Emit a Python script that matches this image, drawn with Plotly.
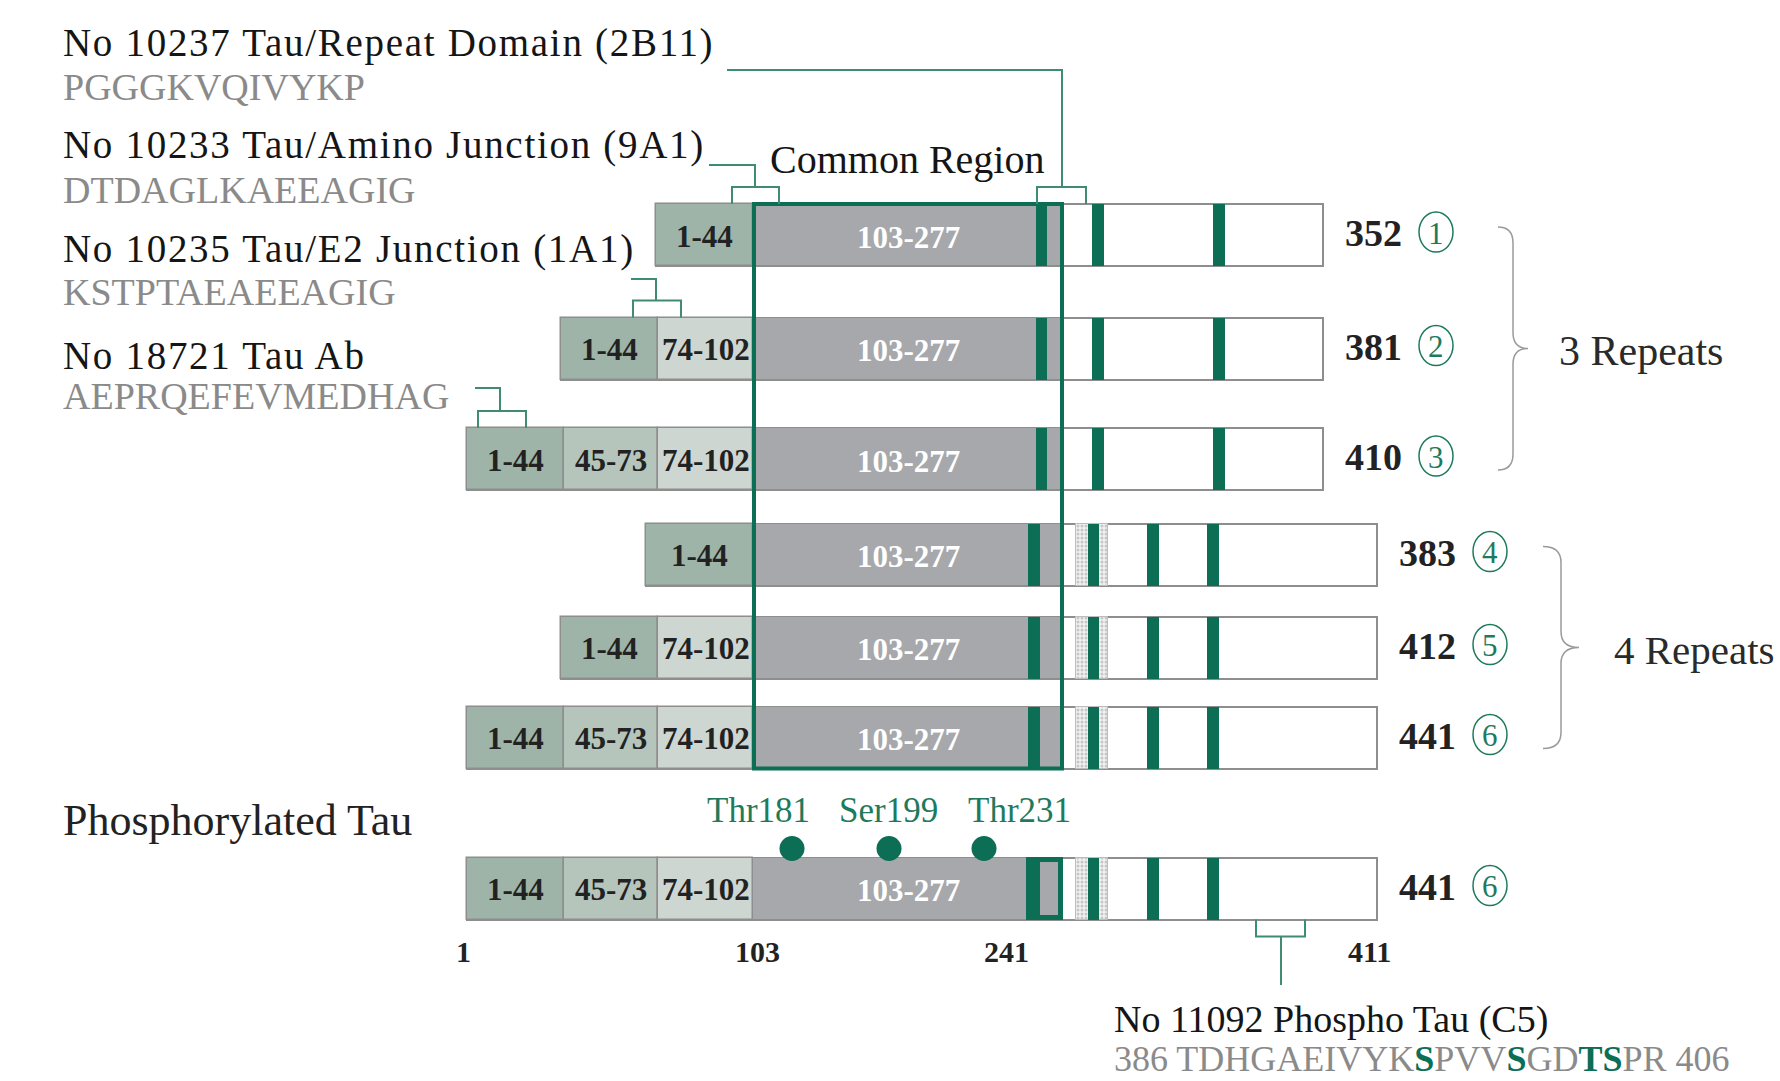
import plotly.graph_objects as go

# ---------------- data ----------------
isoform_lengths = [352, 381, 410, 383, 412, 441]
isoform_numbers = [1, 2, 3, 4, 5, 6]
isoform_nterm = [["1-44"], ["1-44", "74-102"], ["1-44", "45-73", "74-102"],
                 ["1-44"], ["1-44", "74-102"], ["1-44", "45-73", "74-102"]]
isoform_repeats = [3, 3, 3, 4, 4, 4]
core_label = "103-277"
phospho_length = 441
phospho_number = 6
phospho_nterm = ["1-44", "45-73", "74-102"]
phospho_sites = ["Thr181", "Ser199", "Thr231"]
residue_ticks = [1, 103, 241, 411]
antibody_titles = ["No 10237 Tau/Repeat Domain (2B11)",
                   "No 10233 Tau/Amino Junction (9A1)",
                   "No 10235 Tau/E2 Junction (1A1)",
                   "No 18721 Tau Ab"]
antibody_peptides = ["PGGGKVQIVYKP", "DTDAGLKAEEAGIG", "KSTPTAEAEEAGIG", "AEPRQEFEVMEDHAG"]
c5_title = "No 11092 Phospho Tau (C5)"
c5_peptide_parts = ["386 TDHGAEIVYK", "S", "PVV", "S", "GD", "TS", "PR 406"]
c5_peptide_phospho = [False, True, False, True, False, True, False]
repeat_group_labels = ["3 Repeats", "4 Repeats"]
common_label = "Common Region"
phospho_title = "Phosphorylated Tau"

# ---------------- layout / style ----------------
W, H = 1780, 1081
FONT = "Liberation Serif"
GREEN = "#0b6e55"
GREEN_LINE = "#3f8c72"
GREEN_TEXT = "#1f7a5d"
GRAY = "#a7a8ab"
OUTLINE = "#8e8e8e"
DARK = "#151515"
PEP_GRAY = "#8a8a8a"
SEG_COLORS = {"1-44": "#9eb4a8", "45-73": "#b6c5bc", "74-102": "#cdd6d1"}

ROW_Y = [235, 348.5, 459, 554.5, 647.5, 737.5]
PHOS_Y = 888.5
BAR_H = 62
CORE_X0, CORE_X1 = 753, 1062
SEG_W = {"1-44": 97, "45-73": 94, "74-102": 95}
SEG_W_ROW = {3: {"1-44": 107}}          # drawn wider on the 383 row
BAR_END = {3: 1323, 4: 1377}
STRIPES = {3: [(1036, 1047), (1092, 1104), (1213, 1225)],
           4: [(1028, 1040), (1088, 1099), (1147, 1159), (1207, 1219)]}
DOTTED = {3: [], 4: [(1076, 1108)]}

TITLE_X = 61
TITLE_Y = [43, 145, 249, 355]
PEP_Y = [87, 190, 292, 396]
# epitope brackets: (row index, bracket x0, x1, stem x, leader start x, leader y)
EPITOPES = [(0, 1037, 1086, 1062, 727, 70),
            (0, 732, 779, 755, 709, 165),
            (1, 633, 681, 656, 631, 279),
            (2, 478, 526, 500, 475, 388)]
BRACKET_RISE = 17
SITE_X = [792, 889, 984]
SITE_LABEL_X = [758, 888, 1019]
TICK_X = [463, 757, 1006, 1369]
TICK_Y = 951
C5_BRACKET = (1256, 1305, 1281, 985)
C5_TEXT_X = 1112
BRACE = [(0, 2, 1498, 30, 1557, 42), (3, 5, 1543, 36, 1612, 41)]

fig = go.Figure()
shapes = []
annotations = []


def bars(xs0, xs1, ys, color, line_color=OUTLINE, line_w=1.5, pattern=None):
    fig.add_trace(go.Bar(
        orientation="h", y=ys, base=xs0, x=[b - a for a, b in zip(xs0, xs1)],
        width=BAR_H,
        marker=dict(color=color, line=dict(color=line_color, width=line_w),
                    pattern=pattern if pattern else {}),
        showlegend=False, hoverinfo="skip"))


def txt(x, y, s, size, color=DARK, xanchor="left", bold=False, spacing=None,
        yanchor="middle"):
    if spacing:
        s = f'<span style="letter-spacing:{spacing}px">{s}</span>'
    if bold:
        s = f"<b>{s}</b>"
    annotations.append(dict(x=x, y=y, xref="x", yref="y", text=s, showarrow=False,
                            xanchor=xanchor, yanchor=yanchor,
                            font=dict(family=FONT, size=size, color=color)))


def line_path(pts, color=GREEN_LINE, width=2):
    path = "M " + " L ".join(f"{x},{y}" for x, y in pts)
    shapes.append(dict(type="path", path=path, xref="x", yref="y",
                       line=dict(color=color, width=width)))


# rows to draw: six isoforms + phosphorylated 2N4R
rows = []
for i in range(6):
    rows.append(dict(y=ROW_Y[i], nterm=isoform_nterm[i], rep=isoform_repeats[i],
                     length=isoform_lengths[i], num=isoform_numbers[i],
                     w={**SEG_W, **SEG_W_ROW.get(i, {})}))
rows.append(dict(y=PHOS_Y, nterm=phospho_nterm, rep=4, length=phospho_length,
                 num=phospho_number, w=dict(SEG_W)))

for r in rows:
    r["start"] = CORE_X0 - sum(r["w"][s] for s in r["nterm"])
    r["end"] = BAR_END[r["rep"]]

# white full-length backgrounds
bars([r["start"] for r in rows], [r["end"] for r in rows], [r["y"] for r in rows], "white",
     line_w=2)
# N-terminal exon segments
for seg in ["1-44", "45-73", "74-102"]:
    x0s, x1s, ys = [], [], []
    for r in rows:
        x = r["start"]
        for s in r["nterm"]:
            if s == seg:
                x0s.append(x); x1s.append(x + r["w"][s]); ys.append(r["y"])
            x += r["w"][s]
    bars(x0s, x1s, ys, SEG_COLORS[seg])
# core gray region
bars([CORE_X0] * len(rows), [CORE_X1] * len(rows), [r["y"] for r in rows], GRAY,
     line_w=1)
# dotted inserts
x0s, x1s, ys = [], [], []
for r in rows:
    for a, b in DOTTED[r["rep"]]:
        x0s.append(a); x1s.append(b); ys.append(r["y"])
bars(x0s, x1s, ys, "#eeeeee", line_color="#bdbdbd", line_w=1,
     pattern=dict(shape=".", fgcolor="#9c9c9c", bgcolor="#f1f1f1", size=4, solidity=0.45))
# repeat stripes
x0s, x1s, ys = [], [], []
for r in rows:
    for a, b in STRIPES[r["rep"]]:
        x0s.append(a); x1s.append(b); ys.append(r["y"])
bars(x0s, x1s, ys, GREEN, line_color=GREEN, line_w=0)

# phosphorylation sites
fig.add_trace(go.Scatter(x=SITE_X, y=[PHOS_Y - 40] * len(SITE_X), mode="markers",
                         marker=dict(size=25, color=GREEN), showlegend=False,
                         hoverinfo="skip", cliponaxis=False))

# common region box
shapes.append(dict(type="rect", xref="x", yref="y", x0=CORE_X0 + 1, x1=CORE_X1,
                   y0=ROW_Y[0] - BAR_H / 2, y1=ROW_Y[5] + BAR_H / 2,
                   line=dict(color=GREEN, width=4)))
# phospho box around first repeat
shapes.append(dict(type="rect", xref="x", yref="y", x0=1028.5, x1=1060.5,
                   y0=PHOS_Y - BAR_H / 2 + 2, y1=PHOS_Y + BAR_H / 2 - 2,
                   line=dict(color=GREEN, width=5)))

# segment labels
for r in rows:
    x = r["start"]
    for s in r["nterm"]:
        txt(x + r["w"][s] / 2, r["y"] + 1, s, 31, color="#222222", xanchor="center", bold=True)
        x += r["w"][s]
    txt(908, r["y"] + 2, core_label, 31, color="white", xanchor="center", bold=True)
    # length + circled isoform number
    txt(r["end"] + 20, r["y"] - 2, str(r["length"]), 38, color="#222222", bold=True)
    cx, cy = r["end"] + 113, r["y"] - 3
    shapes.append(dict(type="circle", xref="x", yref="y", x0=cx - 17, x1=cx + 17,
                       y0=cy - 20, y1=cy + 20, line=dict(color=GREEN_TEXT, width=1.5)))
    txt(cx, cy + 1, str(r["num"]), 31, color=GREEN_TEXT, xanchor="center")

# antibody labels and epitope connectors
for t, p, ty, py in zip(antibody_titles, antibody_peptides, TITLE_Y, PEP_Y):
    txt(TITLE_X, ty, t, 39, color=DARK, spacing=1.7)
    txt(TITLE_X, py, p, 38, color=PEP_GRAY)
for ri, bx0, bx1, sx, lx, ly in EPITOPES:
    top = ROW_Y[ri] - BAR_H / 2
    by = top - BRACKET_RISE
    line_path([(lx, ly), (sx, ly), (sx, by)])
    line_path([(bx0, top), (bx0, by), (bx1, by), (bx1, top)])

txt(907, 159, common_label, 40, color=DARK, xanchor="center")

# phosphorylated tau
txt(TITLE_X, 820, phospho_title, 44, color="#222222")
for lab, lx in zip(phospho_sites, SITE_LABEL_X):
    txt(lx, PHOS_Y - 78, lab, 35, color=GREEN_TEXT, xanchor="center")
for t, tx in zip(residue_ticks, TICK_X):
    txt(tx, TICK_Y, str(t), 30, color="#222222", xanchor="center", bold=True)

# C5 epitope
bot = PHOS_Y + BAR_H / 2
cb0, cb1, cs, cend = C5_BRACKET
line_path([(cb0, bot), (cb0, bot + BRACKET_RISE), (cb1, bot + BRACKET_RISE), (cb1, bot)])
line_path([(cs, bot + BRACKET_RISE), (cs, cend)])
txt(C5_TEXT_X, 1019, c5_title, 38, color=DARK)
pep = ""
for part, ph in zip(c5_peptide_parts, c5_peptide_phospho):
    pep += f'<b><span style="color:{GREEN}">{part}</span></b>' if ph else part
txt(C5_TEXT_X, 1081, pep, 36, color=PEP_GRAY, yanchor="bottom")

# braces for repeat groups
for (r0, r1, bx, bw, tx, fs), lab in zip(BRACE, repeat_group_labels):
    yt, yb = ROW_Y[r0] - 8, ROW_Y[r1] + 11
    ym = (yt + yb) / 2
    xm, xt, rr = bx + bw / 2, bx + bw, 16
    path = (f"M {bx},{yt} Q {xm},{yt} {xm},{yt + rr} L {xm},{ym - rr} "
            f"Q {xm},{ym} {xt},{ym} Q {xm},{ym} {xm},{ym + rr} L {xm},{yb - rr} "
            f"Q {xm},{yb} {bx},{yb}")
    shapes.append(dict(type="path", path=path, xref="x", yref="y",
                       line=dict(color="#9a9a9a", width=1.5)))
    txt(tx, ym + 2, lab, fs, color="#2a2a2a")

fig.update_layout(
    width=W, height=H, margin=dict(l=0, r=0, t=0, b=0),
    paper_bgcolor="white", plot_bgcolor="white", barmode="overlay", bargap=0,
    xaxis=dict(range=[0, W], visible=False, fixedrange=True),
    yaxis=dict(range=[H, 0], visible=False, fixedrange=True),
    showlegend=False, shapes=shapes, annotations=annotations)

fig.write_html("out.html", config={"displayModeBar": False},
               post_script="document.body.style.margin='0';")
